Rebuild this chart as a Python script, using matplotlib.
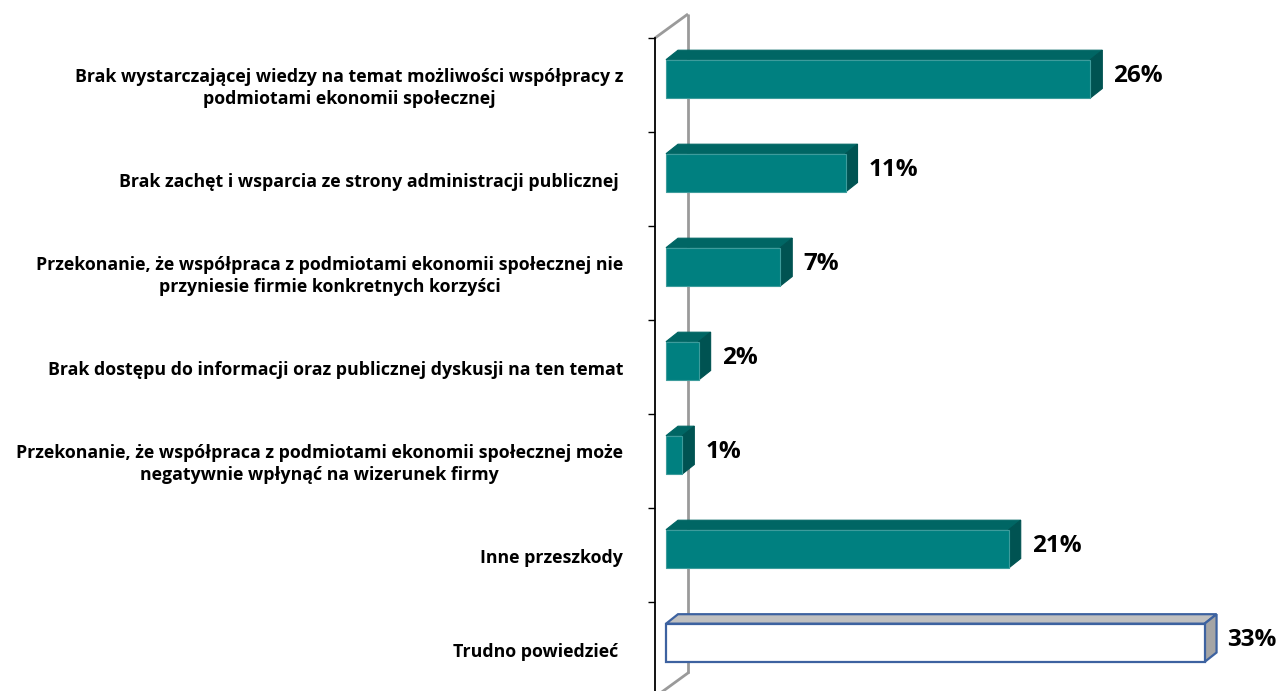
import matplotlib
matplotlib.use("Agg")
import matplotlib.pyplot as plt
from matplotlib.ticker import FixedLocator

# Survey answers: obstacles to cooperation with social economy entities
categories = [
    "Brak wystarczającej wiedzy na temat możliwości współpracy z\npodmiotami ekonomii społecznej",
    "Brak zachęt i wsparcia ze strony administracji publicznej ",
    "Przekonanie, że współpraca z podmiotami ekonomii społecznej nie\nprzyniesie firmie konkretnych korzyści",
    "Brak dostępu do informacji oraz publicznej dyskusji na ten temat",
    "Przekonanie, że współpraca z podmiotami ekonomii społecznej może\nnegatywnie wpłynąć na wizerunek firmy",
    "Inne przeszkody",
    "Trudno powiedzieć ",
]
values = [26, 11, 7, 2, 1, 21, 33]
value_labels = ["26%", "11%", "7%", "2%", "1%", "21%", "33%"]

W, H = 1284, 691
fig = plt.figure(figsize=(W / 100, H / 100), dpi=100)
fig.patch.set_facecolor("white")

# plot area: left axis line at x=655 px, first category boundary at y=38 px
PX_PER_PCT = 16.32          # horizontal scale
ZERO_PX = 666               # where the bars start
ROW_PX = 94                 # category spacing
ax = fig.add_axes([655 / W, 0, 1 - 655 / W, (H - 38) / H])
xmin = -(ZERO_PX - 655) / PX_PER_PCT
xmax = xmin + (W - 655) / PX_PER_PCT
ax.set_xlim(xmin, xmax)
ax.set_ylim(-0.5 + (H - 38) / ROW_PX, -0.5)

# 3D depth of the bars and of the back wall
dx_bar = 12 / PX_PER_PCT
dy_bar = 9.5 / ROW_PX
wall_dx = 33 / PX_PER_PCT
wall_dy = 24 / ROW_PX
wall_x = xmin + wall_dx

# back wall outline
ax.plot([xmin, wall_x], [-0.5, -0.5 - wall_dy], color="#9a9a9a", lw=2.0,
        clip_on=False, zorder=1, solid_capstyle="butt")
ax.plot([wall_x, wall_x], [-0.5 - wall_dy, 6.255], color="#9a9a9a", lw=2.0,
        clip_on=False, zorder=1, solid_capstyle="butt")
ax.plot([wall_x, xmin], [6.255, 6.255 + wall_dy], color="#9a9a9a", lw=2.0,
        clip_on=False, zorder=1)

front_top = -25.3 / ROW_PX
front_bot = 13.0 / ROW_PX
bar_h = front_bot - front_top
bar_c = (front_top + front_bot) / 2

for i, v in enumerate(values):
    last = i == len(values) - 1
    if last:
        face, top, side, edge, lw = "white", "#c0c0c0", "#a5a5a5", "#3d62a0", 1.6
    else:
        face, top, side, edge, lw = "#008080", "#006664", "#005352", "#3d9c9c", 0.8
    yt = i + front_top
    yb = i + front_bot
    # top face
    ax.fill([0, dx_bar, v + dx_bar, v], [yt, yt - dy_bar, yt - dy_bar, yt],
            facecolor=top, edgecolor=edge if last else top, lw=lw,
            zorder=3, joinstyle="miter")
    # side face
    ax.fill([v, v + dx_bar, v + dx_bar, v], [yt, yt - dy_bar, yb - dy_bar, yb],
            facecolor=side, edgecolor=edge if last else side, lw=lw,
            zorder=3, joinstyle="miter")
    # front face
    ax.barh(i + bar_c, v, height=bar_h, left=0, color=face, edgecolor=edge,
            linewidth=lw, zorder=4)
    ax.text(v + dx_bar + 11 / PX_PER_PCT, i - 9 / ROW_PX, value_labels[i],
            ha="left", va="center", fontsize=17.5, fontweight="bold",
            family="Open Sans", color="black", zorder=5)

# axes styling: only the left axis line with ticks at category boundaries
for s in ("top", "right", "bottom"):
    ax.spines[s].set_visible(False)
ax.spines["left"].set_color("black")
ax.spines["left"].set_linewidth(1.3)
ax.set_xticks([])
ax.set_yticks([k + 0.03 for k in range(len(categories))])
ax.set_yticklabels(categories)
ax.yaxis.set_minor_locator(FixedLocator([k - 0.5 for k in range(len(categories) + 1)]))
ax.tick_params(axis="y", which="major", length=0, pad=23)
ax.tick_params(axis="y", which="minor", length=5, width=1.0, color="black")
for lbl in ax.get_yticklabels():
    lbl.set_multialignment("center")
    lbl.set_verticalalignment("center")
    lbl.set_fontfamily("Open Sans")
    lbl.set_fontweight("bold")
    lbl.set_fontsize(12.75)
    lbl.set_linespacing(1.3)
ax.set_facecolor("none")

fig.savefig("out.png", dpi=100, facecolor="white")
